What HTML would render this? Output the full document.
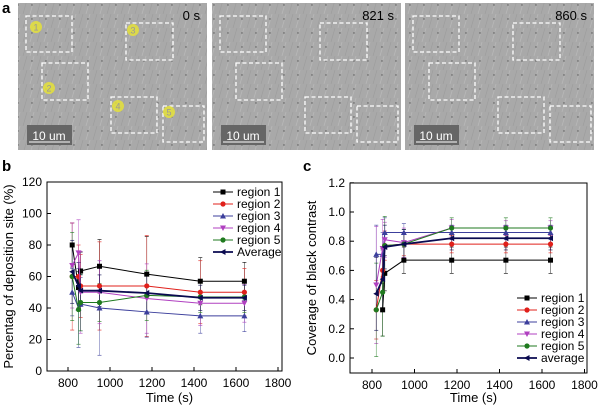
<!DOCTYPE html>
<html><head><meta charset="utf-8"><style>
body{margin:0;width:600px;height:408px;background:#fff;overflow:hidden;font-family:"Liberation Sans",Arial,sans-serif}
svg{position:absolute;left:0;top:0}
</style></head><body>
<svg id="s" width="600" height="408" xmlns="http://www.w3.org/2000/svg" font-family="Liberation Sans, Arial, sans-serif">
<defs>
<pattern id="tex" width="14" height="14" patternUnits="userSpaceOnUse">
<rect width="14" height="14" fill="#a9a9a9"/>
<line x1="2" y1="14" x2="6" y2="0" stroke="#b8b8b8" stroke-width="0.8"/>
<line x1="9" y1="14" x2="13" y2="0" stroke="#9c9c9c" stroke-width="0.6"/>
<circle cx="4" cy="5" r="0.7" fill="#555"/>
</pattern>
</defs>
<text x="2" y="13" font-size="15" font-weight="bold">a</text>
<text x="2" y="171" font-size="15" font-weight="bold">b</text>
<text x="303" y="171" font-size="15" font-weight="bold">c</text>
<g id="g"></g>
</svg>
<script>
const NS="http://www.w3.org/2000/svg",g=document.getElementById('g');
function el(t,a,txt){const e=document.createElementNS(NS,t);for(const k in a)e.setAttribute(k,a[k]);if(txt!==undefined)e.textContent=txt;g.appendChild(e);return e;}
const offs=[18,212,405],labels=["0 s","821 s","860 s"];
offs.forEach((o,i)=>{
 el('rect',{x:o,y:3,width:189,height:147,fill:'url(#tex)'});
 const d=o-18;
 [[26,16,46,36],[126,23,47,37],[42,63,46,37],[111,97,46,36],[163,106,41,36]].forEach(b=>{
  el('rect',{x:b[0]+d,y:b[1],width:b[2],height:b[3],fill:'none',stroke:'#fff','stroke-width':1.3,'stroke-dasharray':'4,2.5'});
 });
 el('rect',{x:o+9,y:125,width:45,height:20,fill:'#666'});
 el('text',{x:o+31,y:140,'font-size':12,fill:'#fff','text-anchor':'middle'},'10 um');
 el('line',{x1:o+11,y1:142,x2:o+52,y2:142,stroke:'#fff','stroke-width':1});
 el('text',{x:o+182,y:20,'font-size':13,'text-anchor':'end'},labels[i]);
});
[[36,27,'1'],[133,30,'3'],[49,88,'2'],[118,106,'4'],[169,112,'5']].forEach(c=>{
 el('circle',{cx:c[0],cy:c[1],r:6,fill:'#e5e23a',opacity:0.85});
 el('text',{x:c[0],y:c[1]+3.5,'font-size':9,fill:'#999','text-anchor':'middle'},c[2]);
});
const T=[820,850,860,950,1175,1430,1640];
const cols=['#000','#e0201b','#3c3f9c','#b040c0','#1f7a1f','#0a0a50'];
const names1=['region 1','region 2','region 3','region 4','region 5','Average'];
function marker(t,x,y,c){
 if(t==0)el('rect',{x:x-2.5,y:y-2.5,width:5,height:5,fill:c});
 else if(t==1||t==4)el('circle',{cx:x,cy:y,r:2.6,fill:c});
 else if(t==2)el('polygon',{points:`${x},${y-3} ${x-3},${y+2.5} ${x+3},${y+2.5}`,fill:c});
 else if(t==3)el('polygon',{points:`${x},${y+3} ${x-3},${y-2.5} ${x+3},${y-2.5}`,fill:c});
 else el('polygon',{points:`${x-3},${y} ${x+2.5},${y-3} ${x+2.5},${y+3}`,fill:c});
}
function chart(o){
 const X=v=>o.x0+(v-800)*o.kx, Y=v=>o.y0-v*o.ky;
 el('rect',{x:o.L,y:o.T,width:o.R-o.L,height:o.B-o.T,fill:'none',stroke:'#000','stroke-width':1});
 for(let v=800;v<=1800;v+=200){const x=X(v);el('line',{x1:x,y1:o.B,x2:x,y2:o.B-4,stroke:'#000'});el('text',{x:x,y:o.B+16,'font-size':12,'text-anchor':'middle'},v);}
 o.yt.forEach(v=>{const y=Y(v);el('line',{x1:o.L,y1:y,x2:o.L+4,y2:y,stroke:'#000'});el('text',{x:o.L-5,y:y+4,'font-size':12,'text-anchor':'end'},o.fmt(v));});
 el('text',{x:(o.L+o.R)/2+5,y:402,'font-size':13,'text-anchor':'middle'},'Time  (s)');
 el('text',{x:0,y:0,'font-size':13,'text-anchor':'middle',transform:`translate(${o.L-o.yl},${(o.T+o.B)/2}) rotate(-90)`},o.ylab);
 o.data.forEach((d,i)=>{
  d.forEach((v,j)=>{if(v==null)return;const e=o.err[i][j];const x=X(T[j]);el('line',{x1:x,y1:Y(v-e),x2:x,y2:Y(v+e),stroke:cols[i],'stroke-width':0.6,opacity:0.7});el('line',{x1:x-2,y1:Y(v+e),x2:x+2,y2:Y(v+e),stroke:cols[i],'stroke-width':0.6});el('line',{x1:x-2,y1:Y(v-e),x2:x+2,y2:Y(v-e),stroke:cols[i],'stroke-width':0.6});});
 });
 o.data.forEach((d,i)=>{
  const pts=d.map((v,j)=>v==null?null:X(T[j])+','+Y(v)).filter(p=>p).join(' ');
  el('polyline',{points:pts,fill:'none',stroke:cols[i],'stroke-width':i==5?1.8:1});
  d.forEach((v,j)=>{if(v!=null)marker(i,X(T[j]),Y(v),cols[i]);});
 });
 o.names.forEach((n,i)=>{const y=o.ly+i*12;el('line',{x1:o.lx,y1:y,x2:o.lx+20,y2:y,stroke:cols[i],'stroke-width':i==5?1.8:1});marker(i,o.lx+10,y,cols[i]);el('text',{x:o.lx+24,y:y+4,'font-size':12},n);});
}
chart({L:47,R:282,T:182,B:371,x0:68,kx:0.21,y0:371,ky:1.575,yt:[0,20,40,60,80,100,120],fmt:v=>v,yl:34,
 ylab:'Percentag of deposition site (%)',lx:213,ly:192,names:names1,
 data:[[80,53,63.5,66.5,61.5,57,57],[60,60,54,54,54,50,50],[50,40,42.5,40,37.5,35,35],[67,75,50,50,46,43,43],[60,39,43.5,43.5,48,47,47],[63,54,51,51,49.5,46.5,46.5]],
 err:[[14,10,12,17,24,15,12],[34,20,20,28,32,20,15],[15,25,17,30,16,11,10],[27,21,26,20,22,14,12],[28,22,18,12,16,10,10],[20,15,10,10,12,8,8]]});
chart({L:350,R:587,T:183,B:373,x0:372,kx:0.2125,y0:358,ky:146,yt:[0,0.2,0.4,0.6,0.8,1.0,1.2],fmt:v=>v.toFixed(1),yl:34,
 ylab:'Coverage of black contrast',lx:517,ly:298,names:['region 1','region 2','region 3','region 4','region 5','average'],
 data:[[null,0.33,0.58,0.67,0.67,0.67,0.67],[0.33,0.6,0.77,0.78,0.78,0.78,0.78],[0.71,0.71,0.86,0.86,0.86,0.86,0.86],[0.5,0.75,0.81,0.79,0.89,0.89,0.89],[0.33,0.45,0.77,0.78,0.89,0.89,0.89],[0.44,0.54,0.76,0.78,0.82,0.82,0.82]],
 err:[[0,0.18,0.12,0.09,0.09,0.09,0.09],[0.2,0.15,0.1,0.08,0.06,0.06,0.06],[0.2,0.15,0.1,0.06,0.05,0.05,0.05],[0.4,0.2,0.12,0.1,0.06,0.05,0.05],[0.32,0.3,0.2,0.1,0.07,0.07,0.07],[0.25,0.2,0.15,0.1,0.08,0.08,0.08]]});
</script>
</body></html>
